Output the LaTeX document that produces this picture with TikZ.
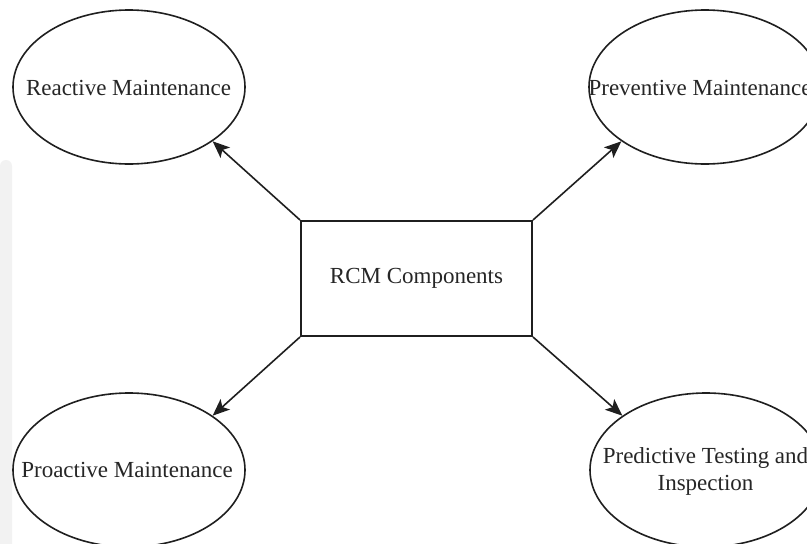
\documentclass[tikz,border=0pt]{standalone}
\usepackage{fontspec}
\setmainfont{Liberation Serif}
\usetikzlibrary{shapes.geometric,arrows.meta}
\begin{document}
\begin{tikzpicture}[x=1pt,y=-1pt,
  oval/.style={ellipse,draw=black!88,line width=1.6pt,minimum width=232pt,minimum height=154pt,inner sep=0pt},
  lbl/.style={font=\fontsize{23}{27}\selectfont,text=black!85,align=center,inner sep=0pt},
  hub/.style={rectangle,draw=black!88,line width=2pt,minimum width=231pt,minimum height=115pt,inner sep=0pt,font=\fontsize{23}{27}\selectfont,text=black!85},
  link/.style={draw=black!88,line width=1.6pt,-{Stealth[length=17pt,width=14pt,inset=4pt]}}]
\clip (0,0) rectangle (807,544);
\fill[white] (0,0) rectangle (807,544);
\fill[black!5,rounded corners=6pt] (0,160) -- (12,160) -- (12,560) -- (0,560) -- cycle;
\node[hub] (rcm) at (416.5,278.5) {RCM Components};
\node[oval] (tl) at (129,87) {};
\node[oval] (tr) at (705,87) {};
\node[oval] (bl) at (129,470) {};
\node[oval] (br) at (706,470) {};
\node[lbl] (tlt) at (128.5,88) {Reactive Maintenance};
\node[lbl] (trt) at (700,88) {Preventive Maintenance};
\node[lbl] (blt) at (127,470) {Proactive Maintenance};
\node[lbl] (brt) at (705.5,471) {Predictive Testing and\\Inspection};
\draw[link] (rcm.north west) -- (tl.-33);
\draw[link] (rcm.north east) -- (tr.-147);
\draw[link] (rcm.south west) -- (bl.33);
\draw[link] (rcm.south east) -- (br.147);
\end{tikzpicture}
\end{document}
